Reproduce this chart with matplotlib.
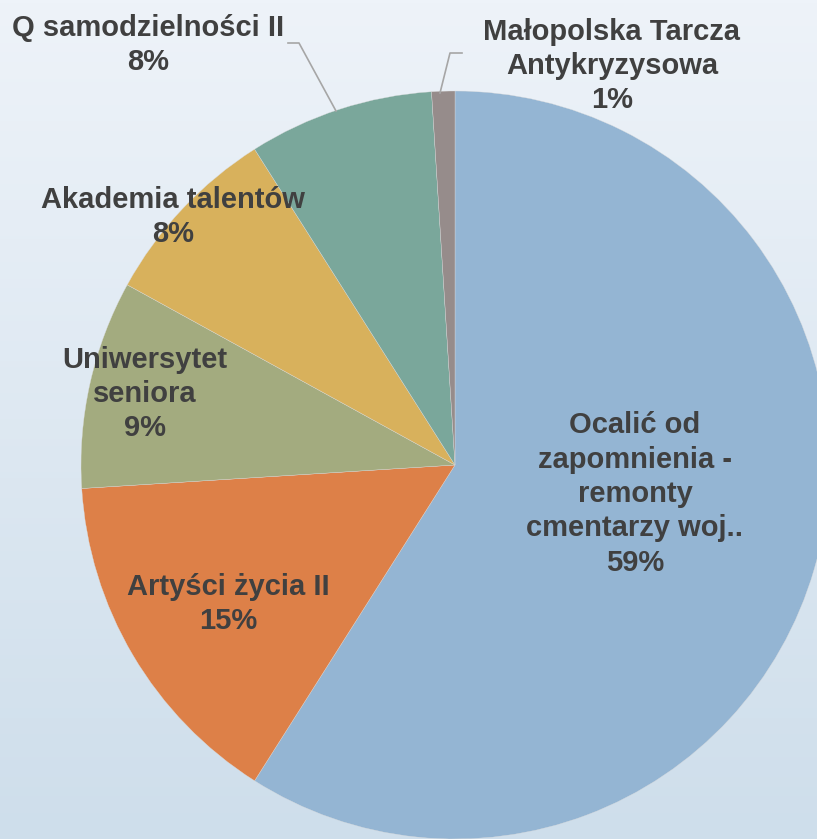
import numpy as np
import matplotlib.pyplot as plt

# dane z wykresu (udział procentowy)
nazwy = ['Ocalić od\nzapomnienia -\nremonty\ncmentarzy woj..',
         'Artyści życia II',
         'Uniwersytet\nseniora',
         'Akademia talentów',
         'Q samodzielności II',
         'Małopolska Tarcza\nAntykryzysowa']
udzialy = [59, 15, 9, 8, 8, 1]
kolory = ['#94b5d3', '#dd8048', '#a3ab7f', '#d8b15c', '#7aa79b', '#968c8b']

# polozenia etykiet w pikselach (x, y od gory)
pozycje = [(635, 494), (228, 604), (145, 394), (173, 217), (148, 45), (612, 66)]

W, H = 817, 839
fig = plt.figure(figsize=(W / 100, H / 100), dpi=100)

# tlo z gradientem
bg = fig.add_axes([0, 0, 1, 1])
grad = np.linspace(0, 1, 256).reshape(-1, 1)
top = np.array([238, 243, 249]) / 255
bot = np.array([206, 222, 235]) / 255
img = top + (bot - top) * grad[:, :, None]
bg.imshow(img, aspect='auto', extent=[0, 1, 0, 1])
bg.axis('off')

ax = fig.add_axes([0, 0, 1, 1])
ax.patch.set_alpha(0)
cx, cy, r = 455, H - 465, 374
ax.pie(udzialy, colors=kolory, startangle=90, counterclock=False,
       center=(cx, cy), radius=r, frame=False,
       wedgeprops=dict(edgecolor='#dcdcdc', linewidth=0.25))
ax.set_xlim(0, W)
ax.set_ylim(0, H)
ax.set_aspect('equal')
ax.axis('off')

for nazwa, u, (x, y) in zip(nazwy, udzialy, pozycje):
    ax.text(x, H - y, f'{nazwa}\n{u}%', ha='center', va='center',
            fontsize=21, fontweight='bold', color='#404040',
            family='Liberation Sans', linespacing=1.29)

# linie odniesienia
ax.plot([288, 299, 336], [H - 43, H - 43, H - 111], color='#a6a6a6', lw=1.2)
ax.plot([462, 450, 440], [H - 53, H - 53, H - 93], color='#a6a6a6', lw=1.2)

fig.savefig('out.png', dpi=100)
